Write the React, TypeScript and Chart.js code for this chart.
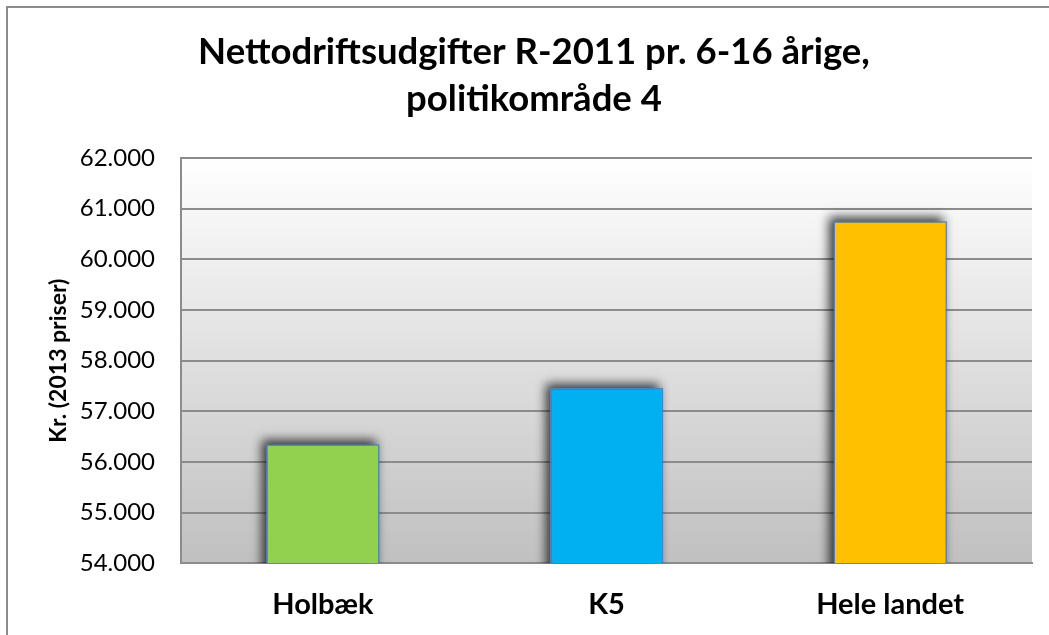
import React, { useEffect, useRef } from "react";
import { Chart, registerables } from "chart.js";

Chart.register(...registerables);

const categories = ["Holbæk", "K5", "Hele landet"];
const values = [56350, 57460, 60750];
const barColors = ["#92d050", "#00b0f0", "#ffc000"];
const titleLines = ["Nettodriftsudgifter R-2011 pr. 6-16 årige,", "politikområde 4"];
const yAxisTitle = "Kr. (2013 priser)";
const yMin = 54000;
const yMax = 62000;
const yStep = 1000;

const formatThousands = (v: number) => {
  const thousands = Math.floor(v / 1000);
  const rest = Math.round(v % 1000);
  return `${thousands}.${String(rest).padStart(3, "0")}`;
};

const framePlugin = {
  id: "frameAndBackground",
  beforeDraw(chart: any) {
    const { ctx, chartArea } = chart;
    ctx.save();
    ctx.strokeStyle = "#8c8c8c";
    ctx.lineWidth = 2;
    ctx.strokeRect(7, 7, 1100, 700);
    const g = ctx.createLinearGradient(0, chartArea.top, 0, chartArea.bottom);
    g.addColorStop(0, "#ffffff");
    g.addColorStop(1, "#c0c0c0");
    ctx.fillStyle = g;
    ctx.fillRect(chartArea.left, chartArea.top, chartArea.right - chartArea.left, chartArea.bottom - chartArea.top);
    ctx.restore();
  },
};

const shadowPlugin = {
  id: "barShadow",
  beforeDatasetsDraw(chart: any) {
    const { ctx, chartArea } = chart;
    const meta = chart.getDatasetMeta(0);
    ctx.save();
    ctx.beginPath();
    ctx.rect(chartArea.left, chartArea.top, chartArea.right - chartArea.left, chartArea.bottom - chartArea.top);
    ctx.clip();
    meta.data.forEach((bar: any) => {
      const p = bar.getProps(["x", "y", "base", "width"], true);
      const left = p.x - p.width / 2;
      const top = Math.min(p.y, p.base);
      const h = Math.abs(p.base - p.y);
      ctx.save();
      ctx.shadowColor = "rgba(0,0,0,0.75)";
      ctx.shadowBlur = 10;
      ctx.shadowOffsetX = -3000 - 4;
      ctx.shadowOffsetY = -4;
      ctx.fillStyle = "#000000";
      ctx.fillRect(left + 3000, top, p.width, h);
      ctx.restore();
    });
    ctx.restore();
  },
};

export default function App() {
  const canvasRef = useRef<HTMLCanvasElement | null>(null);

  useEffect(() => {
    if (!canvasRef.current) return;
    const chart = new Chart(canvasRef.current, {
      type: "bar",
      data: {
        labels: categories,
        datasets: [
          {
            data: values,
            backgroundColor: barColors,
            borderColor: "#4f81bd",
            borderWidth: 1.5,
            barPercentage: 0.4,
            categoryPercentage: 1,
          },
        ],
      },
      plugins: [framePlugin, shadowPlugin],
      options: {
        responsive: false,
        animation: false,
        devicePixelRatio: 1,
        layout: { padding: { left: 36, right: 17, top: 0, bottom: 0 } },
        plugins: {
          legend: { display: false },
          tooltip: { enabled: false },
          title: {
            display: true,
            text: titleLines,
            color: "#000000",
            font: { family: "Lato", size: 36.5, weight: "bold", lineHeight: 1.288 },
            padding: { top: 28.5, bottom: 35.5 },
          },
        },
        scales: {
          x: {
            afterFit: (scale: any) => {
              scale.height = 71.7;
            },
            grid: { display: false, drawTicks: false },
            border: { display: true, color: "#8c8c8c", width: 2 },
            ticks: {
              color: "#000000",
              padding: 24,
              font: { family: "Lato", size: 29, weight: "bold" },
            },
          },
          y: {
            min: yMin,
            max: yMax,
            afterFit: (scale: any) => {
              scale.width = 145;
            },
            grid: { color: "#8c8c8c", lineWidth: 2, drawTicks: false },
            border: { display: true, color: "#8c8c8c", width: 2 },
            ticks: {
              stepSize: yStep,
              color: "#000000",
              padding: 26,
              font: { family: "Lato", size: 24 },
              callback: (v: any) => formatThousands(Number(v)),
            },
            title: {
              display: true,
              text: yAxisTitle,
              color: "#000000",
              font: { family: "Lato", size: 23, weight: "bold" },
              padding: { top: 9, bottom: 0 },
            },
          },
        },
      },
    });
    return () => chart.destroy();
  }, []);

  return (
    <div style={{ position: "absolute", left: 0, top: 0, width: 1049, height: 635, background: "#ffffff" }}>
      <canvas ref={canvasRef} width={1049} height={635} />
    </div>
  );
}
